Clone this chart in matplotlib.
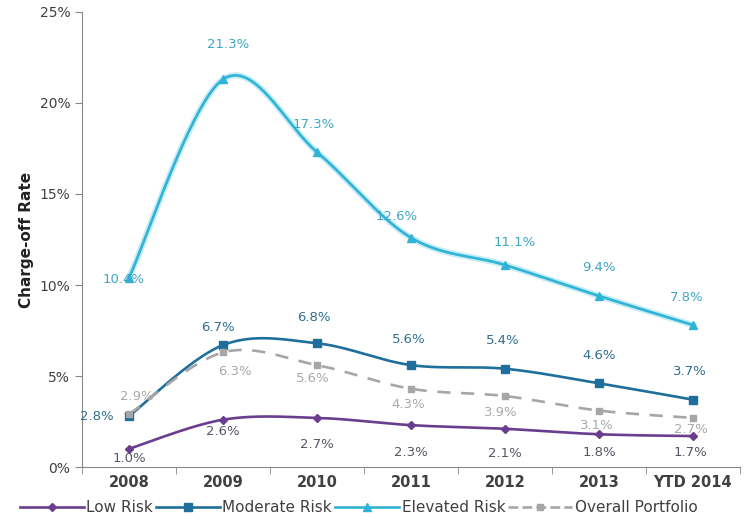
import numpy as np
import matplotlib.pyplot as plt
import matplotlib.patheffects as pe
from matplotlib.lines import Line2D

years = ['2008', '2009', '2010', '2011', '2012', '2013', 'YTD 2014']
low_risk = [1.0, 2.6, 2.7, 2.3, 2.1, 1.8, 1.7]
moderate_risk = [2.8, 6.7, 6.8, 5.6, 5.4, 4.6, 3.7]
elevated_risk = [10.4, 21.3, 17.3, 12.6, 11.1, 9.4, 7.8]
overall = [2.9, 6.3, 5.6, 4.3, 3.9, 3.1, 2.7]


def smooth(xs, ys, n=40):
    # Bezier smoothing like spreadsheet "smoothed line"
    xs = np.asarray(xs, float)
    ys = np.asarray(ys, float)
    px = np.concatenate([[xs[0]], xs, [xs[-1]]])
    py = np.concatenate([[ys[0]], ys, [ys[-1]]])
    outx, outy = [], []
    t = np.linspace(0, 1, n)
    for i in range(1, len(px) - 2):
        x0, y0 = px[i], py[i]
        x3, y3 = px[i + 1], py[i + 1]
        x1 = x0 + (px[i + 1] - px[i - 1]) / 6
        y1 = y0 + (py[i + 1] - py[i - 1]) / 6
        x2 = x3 - (px[i + 2] - px[i]) / 6
        y2 = y3 - (py[i + 2] - py[i]) / 6
        b0 = (1 - t) ** 3
        b1 = 3 * (1 - t) ** 2 * t
        b2 = 3 * (1 - t) * t ** 2
        b3 = t ** 3
        outx.extend(b0 * x0 + b1 * x1 + b2 * x2 + b3 * x3)
        outy.extend(b0 * y0 + b1 * y1 + b2 * y2 + b3 * y3)
    return np.array(outx), np.array(outy)


fig = plt.figure(figsize=(7.47, 5.21), dpi=100)
ax = fig.add_axes([0.1098, 0.1036, 0.8808, 0.8734])
x = np.arange(len(years))

series = [
    # data, colour, marker, size, linestyle, label colour, label offsets (px)
    (low_risk, '#6a3d8f', 'D', 4, '-', '#555566',
     [(0, -10), (0, -12), (0, -27), (0, -27), (0, -25), (0, -18), (-3, -16)], 'Low Risk'),
    (moderate_risk, '#1f6f9c', 's', 6, '-', '#2f6f8f',
     [(-32, 0), (-5, 18), (-3, 26), (-2, 26), (-2, 28), (0, 28), (-3, 28)], 'Moderate Risk'),
    (elevated_risk, '#2fb3d6', '^', 6, '-', '#3fa6c6',
     [(-5, -2), (5, 35), (-3, 28), (-14, 21), (10, 22), (0, 28), (-6, 28)], 'Elevated Risk'),
    (overall, '#a6a6a6', 's', 5, '--', '#aaaaaa',
     [(8, 18), (12, -19), (-4, -13), (-3, -16), (-4, -16), (-2, -15), (-2, -12)], 'Overall Portfolio'),
]

handles = []
for data, col, mk, ms, ls, lcol, offs, name in series:
    sx, sy = smooth(x, data)
    effects = None
    if name == 'Elevated Risk':
        effects = [pe.Stroke(linewidth=4.5, foreground='#c6ecf6'), pe.Normal()]
    ax.plot(sx, sy, color=col, lw=1.9, ls=ls, dashes=(5, 4) if ls == '--' else (None, None),
            path_effects=effects, zorder=3)
    ax.plot(x, data, ls='none', marker=mk, ms=ms, color=col, zorder=4)
    for xi, v, off in zip(x, data, offs):
        ax.annotate(f'{v:.1f}%', (xi, v), xytext=off, textcoords='offset pixels',
                    ha='center', va='center', fontsize=9.5, color=lcol, zorder=5)
    handles.append(Line2D([], [], color=col, lw=1.9, ls=ls, marker=mk, ms=ms, label=name))

ax.set_xlim(-0.5, 6.5)
ax.set_ylim(0, 25)
ax.set_yticks([0, 5, 10, 15, 20, 25])
ax.set_yticklabels(['0%', '5%', '10%', '15%', '20%', '25%'], fontsize=10, color='#404040')
ax.set_xticks(x)
ax.set_xticklabels(years, fontsize=10.5, fontweight='bold', color='#404040')
ax.set_xticks(np.arange(-0.5, 7, 1), minor=True)
ax.tick_params(axis='x', which='major', length=0, pad=6)
ax.tick_params(axis='x', which='minor', length=5, color='#888888')
ax.tick_params(axis='y', length=5, color='#888888')
ax.set_ylabel('Charge-off Rate', fontsize=11, fontweight='bold', color='#222222', labelpad=4)

for s in ['top', 'right']:
    ax.spines[s].set_visible(False)
for s in ['left', 'bottom']:
    ax.spines[s].set_color('#888888')

fig.legend(handles=handles, loc='center', bbox_to_anchor=(0.48, 0.025), ncol=4,
           frameon=False, fontsize=11, handlelength=4.2, columnspacing=0.2,
           handletextpad=0.15, labelcolor='#404040')

fig.savefig('out.png', dpi=100)
